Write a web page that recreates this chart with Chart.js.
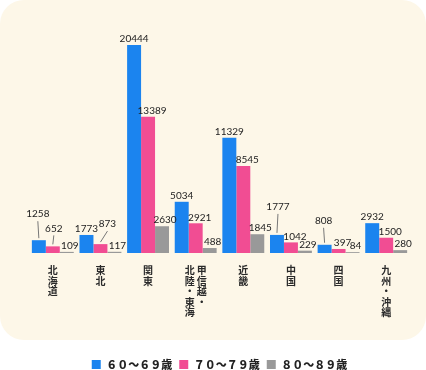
<!DOCTYPE html>
<html>
<head>
<meta charset="utf-8">
<script src="https://cdn.jsdelivr.net/npm/chart.js@4"></script>
<style>
  html, body { margin: 0; padding: 0; background: #fff; overflow: hidden; }
  #wrap { position: relative; width: 426px; height: 370px; }
  #panel { position: absolute; left: 0; top: 0; width: 426px; height: 340px; background: #fdf7e8; border-radius: 24px; }
  #chart { position: absolute; left: 0; top: 0; }
</style>
</head>
<body>
<div id="wrap">
  <div id="panel"></div>
  <canvas id="chart" width="426" height="370"></canvas>
</div>
<script>
// regions (vertical labels: first column is the rightmost one)
const regions = ["北海道", "東北", "関東", "甲信越・北陸・東海", "近畿", "中国", "四国", "九州・沖縄"];
const tickColumns = [
  ["北海道"], ["東北"], ["関東"], ["甲信越・", "北陸・東海"],
  ["近畿"], ["中国"], ["四国"], ["九州・沖縄"]
];
const ageGroups = ["６０～６９歳", "７０～７９歳", "８０～８９歳"];
const age60s = [1258, 1773, 20444, 5034, 11329, 1777, 808, 2932];
const age70s = [652, 873, 13389, 2921, 8545, 1042, 397, 1500];
const age80s = [109, 117, 2630, 488, 1845, 229, 84, 280];
const colors = ["#1b84ef", "#f14d93", "#999999"];

// labels that sit higher with a small leader line ("dataset-index")
const leaders = {
  "0-0": { dx: -1, lift: 26 },
  "1-0": { dx: 1, lift: 18 },
  "1-1": { dx: 7, lift: 20 },
  "0-5": { dx: 1, lift: 28 },
  "0-6": { dx: -1, lift: 24 }
};
const labelShift = [0, 4, 3];

// turn the columns into rows of text, one character per row
function verticalLines(cols) {
  const chars = cols.map(c => Array.from(c)).reverse();
  const rows = Math.max(...chars.map(c => c.length));
  const lines = [];
  for (let r = 0; r < rows; r++) {
    lines.push(chars.map(c => c[r] || "\u3000").join("\u2009"));
  }
  return lines;
}

const valueLabels = {
  id: "valueLabels",
  afterDatasetsDraw(chart) {
    const ctx = chart.ctx;
    ctx.save();
    ctx.font = "10px Lato";
    ctx.fillStyle = "#222";
    ctx.textAlign = "center";
    ctx.textBaseline = "middle";
    chart.data.datasets.forEach((ds, di) => {
      chart.getDatasetMeta(di).data.forEach((bar, i) => {
        const lead = leaders[di + "-" + i];
        const x = bar.x + (lead ? lead.dx : labelShift[di]);
        const y = bar.y - (lead ? lead.lift : 6);
        if (lead) {
          ctx.strokeStyle = "#777";
          ctx.lineWidth = 1;
          ctx.beginPath();
          ctx.moveTo(x, y + 7);
          ctx.lineTo(bar.x, bar.y - 2);
          ctx.stroke();
        }
        ctx.fillText(String(ds.data[i]), x, y);
      });
    });
    ctx.restore();
  }
};

const chart = new Chart(document.getElementById("chart").getContext("2d"), {
  type: "bar",
  data: {
    labels: regions,
    datasets: [
      { label: ageGroups[0], data: age60s, backgroundColor: colors[0] },
      { label: ageGroups[1], data: age70s, backgroundColor: colors[1] },
      { label: ageGroups[2], data: age80s, backgroundColor: colors[2] }
    ]
  },
  options: {
    responsive: false,
    animation: false,
    layout: { padding: { top: 19, left: 29, right: 16, bottom: 0 } },
    datasets: { bar: { categoryPercentage: 0.88, barPercentage: 1.0, borderWidth: 0 } },
    plugins: {
      tooltip: { enabled: false },
      legend: {
        position: "bottom",
        maxHeight: 18,
        labels: {
          boxWidth: 9,
          boxHeight: 9,
          padding: 7,
          color: "#222",
          font: { family: "'Noto Sans CJK JP'", size: 11, weight: "900" }
        }
      }
    },
    scales: {
      x: {
        grid: { display: false, drawTicks: false },
        border: { display: false },
        ticks: {
          padding: 12,
          autoSkip: false,
          maxRotation: 0,
          color: "#2a2a2a",
          font: { family: "'Noto Sans CJK JP'", size: 10, weight: "bold", lineHeight: 1.05 },
          callback: (v, i) => verticalLines(tickColumns[i])
        },
        afterFit: (scale) => { scale.height = 99; }
      },
      y: {
        display: false,
        min: 0,
        max: 23000
      }
    }
  },
  plugins: [valueLabels]
});
</script>
</body>
</html>
